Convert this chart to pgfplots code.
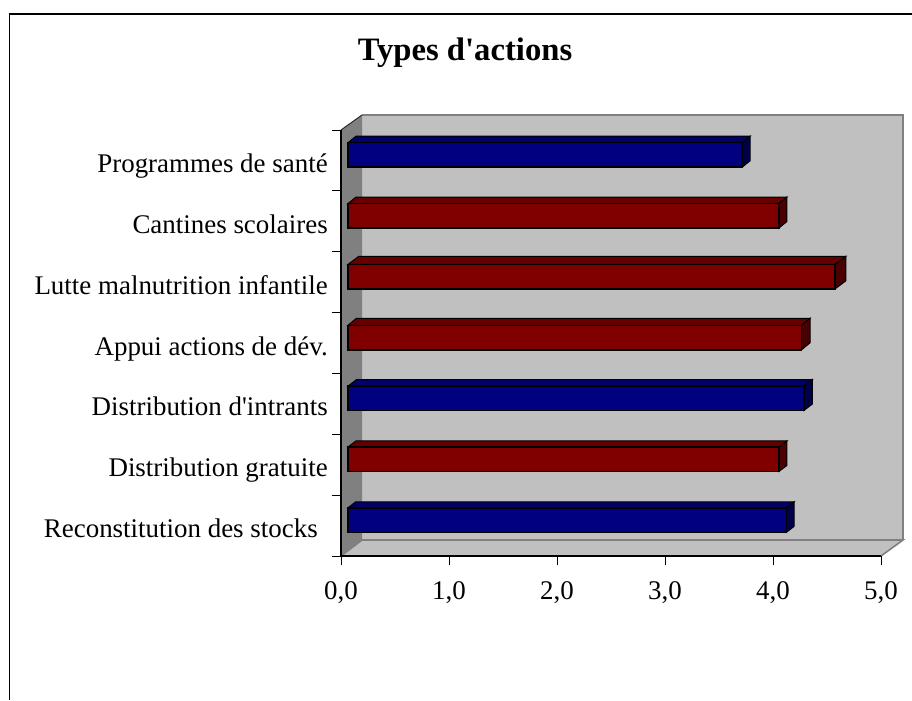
\documentclass[border=0pt]{standalone}
\usepackage{pgfplots}
\pgfplotsset{compat=1.18}
\usepackage{fontspec}
\setmainfont{Liberation Serif}
\definecolor{wall}{HTML}{C0C0C0}
\definecolor{wallgray}{HTML}{808080}
\definecolor{navyf}{HTML}{000080}
\definecolor{navyt}{HTML}{000066}
\definecolor{navys}{HTML}{00004A}
\definecolor{redf}{HTML}{800000}
\definecolor{redt}{HTML}{660000}
\definecolor{reds}{HTML}{4A0000}
% #1 row position, #2 value, #3 depth dx px, #4 depth dy px, #5 top colour, #6 side colour
\newcommand\depthfaces[6]{%
  \pgfmathsetmacro\yt{#1+(5.5+12.25)/60.857}%
  \pgfmathsetmacro\yb{#1+(5.5-12.25)/60.857}%
  \pgfmathsetmacro\ddx{#3/108}%
  \pgfmathsetmacro\ddy{#4/60.857}%
  \pgfmathsetmacro\xe{#2+\ddx}%
  \pgfmathsetmacro\yte{\yt+\ddy}%
  \pgfmathsetmacro\ybe{\yb+\ddy}%
  \addplot[fill=#5,draw=black,line width=0.75pt,xshift=5.25pt,forget plot]
    coordinates {(0,\yt) (#2,\yt) (\xe,\yte) (\ddx,\yte)} --cycle;
  \addplot[fill=#6,draw=black,line width=0.75pt,xshift=5.25pt,forget plot]
    coordinates {(#2,\yt) (\xe,\yte) (\xe,\ybe) (#2,\yb)} --cycle;
}
\begin{document}
\begin{tikzpicture}[x=0.75pt,y=0.75pt]
\path[use as bounding box] (0,0) rectangle (912,700);
% chart frame: top and left only
\draw[black,line width=1.3pt] (912,686) -- (9.5,686) -- (9.5,0);
\node[font=\bfseries\fontsize{24.5}{28}\selectfont,anchor=center] at (465,647) {Types d\textquotesingle actions};
% walls
\fill[wall] (362,585) rectangle (903,160);
\draw[wallgray,line width=1.2pt] (362,585) -- (903,585) -- (903,160);
\fill[wallgray] (341,570) -- (362,585) -- (362,160) -- (341,144) -- cycle;
\fill[wall] (341,144) -- (362,160) -- (903,160) -- (881,144) -- cycle;
\draw[wallgray,line width=1.2pt] (341,144) -- (362,160) -- (903,160) -- (881,144);
\draw[black!70!wallgray,line width=0.7pt] (341,570) -- (362,585);
\begin{axis}[
  at={(255.75pt,108pt)},
  scale only axis, width=405pt, height=319.5pt,
  xmin=0, xmax=5, ymin=0, ymax=7,
  clip=false,
  axis x line*=bottom, axis y line*=left,
  axis line style={black,line width=0.9pt,-},
  xtick={0,1,2,3,4,5},
  tick align=outside,
  major tick length=7pt,
  tick style={black,line width=0.75pt},
  x tick label style={font=\fontsize{20.2}{23}\selectfont,inner sep=0pt,yshift=-12pt,
    /pgf/number format/.cd,fixed,fixed zerofill,precision=1,use comma,assume math mode=true},
  ytick={0,1,2,3,4,5,6,7},
  yticklabels={},
  extra y ticks={0.5,1.5,2.5,3.5,4.5,5.5,6.5},
  extra y tick labels={{Reconstitution des stocks\hspace*{7.5pt}},Distribution gratuite,Distribution d\textquotesingle intrants,{Appui actions de dév.},Lutte malnutrition infantile,Cantines scolaires,Programmes de santé},
  extra y tick style={major tick length=0pt,tick style={draw=none}},
  y tick label style={font=\fontsize{20.2}{23}\selectfont,anchor=east,inner sep=0pt,xshift=-9.75pt,yshift=-4.5pt,
    text height=13pt,text depth=4pt},
]
\depthfaces{0.5}{4.06}{7.7}{6}{navyt}{navys}
\depthfaces{1.5}{3.99}{8}{6}{redt}{reds}
\depthfaces{2.5}{4.22}{8.5}{6.5}{navyt}{navys}
\depthfaces{3.5}{4.20}{8.5}{7}{redt}{reds}
\depthfaces{4.5}{4.51}{10.7}{8}{redt}{reds}
\depthfaces{5.5}{3.99}{8}{6.5}{redt}{reds}
\depthfaces{6.5}{3.65}{8}{6.5}{navyt}{navys}
\addplot[xbar,bar width=18.4pt,bar shift=4.1pt,xshift=5.25pt,fill=navyf,draw=black,line width=1.1pt]
  coordinates {(4.06,0.5) (4.22,2.5) (3.65,6.5)};
\addplot[xbar,bar width=18.4pt,bar shift=4.1pt,xshift=5.25pt,fill=redf,draw=black,line width=1.1pt]
  coordinates {(3.99,1.5) (4.20,3.5) (4.51,4.5) (3.99,5.5)};
\end{axis}
\end{tikzpicture}
\end{document}
